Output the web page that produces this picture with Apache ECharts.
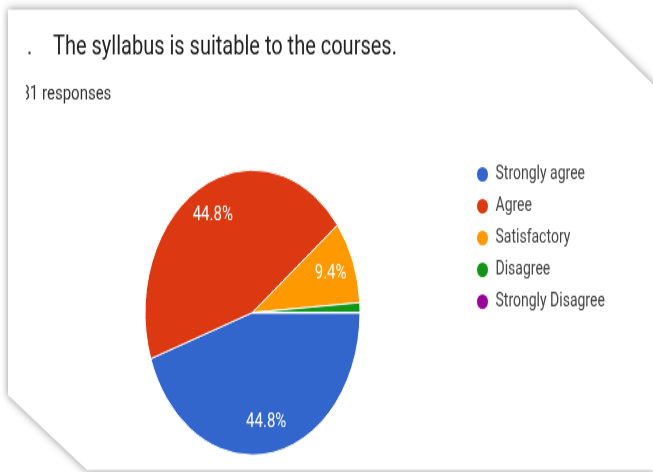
<!DOCTYPE html>
<html><head><meta charset="utf-8">
<script src="https://cdn.jsdelivr.net/npm/echarts@6/dist/echarts.min.js"></script>
<style>
html,body{margin:0;padding:0;background:#fff;overflow:hidden}
#wrap{width:653px;height:472px;overflow:hidden;position:relative;background:#fff}
#chart{width:653px;height:356px;transform:scaleY(1.326);transform-origin:0 0}
</style></head>
<body><div id="wrap"><div id="chart"></div></div>
<script>
const categories = ['Strongly agree', 'Agree', 'Satisfactory', 'Disagree', 'Strongly Disagree'];
const responses = [81, 81, 17, 2, 0];
const sliceColors = ['#3366cc', '#dc3912', '#ff9900', '#109618', '#990099'];
const titleText = 'The syllabus is suitable to the courses.';
const subtitleText = '181 responses';

const total = responses.reduce((a, b) => a + b, 0);
const pieData = categories.map((name, i) => ({ name: name, value: responses[i] }));
const FONT = 'Roboto, "Liberation Sans", sans-serif';
const R = 107.5;
const CENTER = [252.5, 235.7];

const chart = echarts.init(document.getElementById('chart'), null, { renderer: 'canvas' });
chart.setOption({
  animation: false,
  backgroundColor: '#fff',
  color: sliceColors,
  title: [
    { text: titleText, left: 53, top: 26, padding: 0,
      textStyle: { fontFamily: FONT, fontSize: 20, fontWeight: 'normal', color: '#212121', lineHeight: 20 } },
    { text: '.', left: 27, top: 26, padding: 0,
      textStyle: { fontFamily: FONT, fontSize: 20, fontWeight: 'normal', color: '#444', lineHeight: 20 } },
    { text: subtitleText, left: 13, top: 64, padding: 0,
      textStyle: { fontFamily: FONT, fontSize: 15, fontWeight: 'normal', color: '#333', lineHeight: 15 } }
  ],
  legend: {
    orient: 'vertical',
    left: 475, top: 124,
    padding: 0,
    icon: 'circle',
    itemWidth: 16, itemHeight: 13,
    itemGap: 9,
    selectedMode: false,
    data: categories,
    textStyle: { fontFamily: FONT, fontSize: 14, color: '#444', lineHeight: 14 }
  },
  graphic: [
    { type: 'polygon', z: -1, silent: true,
      shape: { points: [[8, 7.3], [577, 7.3], [655, 65], [655, 354.5], [87, 354.5], [8, 298]] },
      style: { fill: '#fff', shadowBlur: 7, shadowColor: 'rgba(0,0,0,0.45)', shadowOffsetX: 0, shadowOffsetY: 0 } },
    { type: 'rect', z: 100, silent: true,
      shape: { x: 9, y: 62, width: 17, height: 20 },
      style: { fill: '#fff' } }
  ],
  series: [
    {
      type: 'pie',
      center: CENTER,
      radius: [0, R],
      startAngle: 0,
      clockwise: true,
      silent: true,
      data: pieData,
      label: { show: false },
      labelLine: { show: false },
      itemStyle: { borderColor: '#fff', borderWidth: 1 }
    },
    {
      type: 'pie',
      center: CENTER,
      radius: [R * 0.5, R],
      startAngle: 0,
      clockwise: true,
      silent: true,
      z: 3,
      legendHoverLink: false,
      data: pieData,
      itemStyle: { color: 'rgba(0,0,0,0)', borderWidth: 0 },
      labelLine: { show: false },
      label: {
        show: true,
        position: 'inside',
        fontFamily: FONT,
        fontSize: 15,
        color: '#fff',
        formatter: function (p) {
          const pct = p.value / total * 100;
          return pct >= 5 ? pct.toFixed(1) + '%' : '';
        }
      }
    }
  ]
});
</script>
</body></html>
